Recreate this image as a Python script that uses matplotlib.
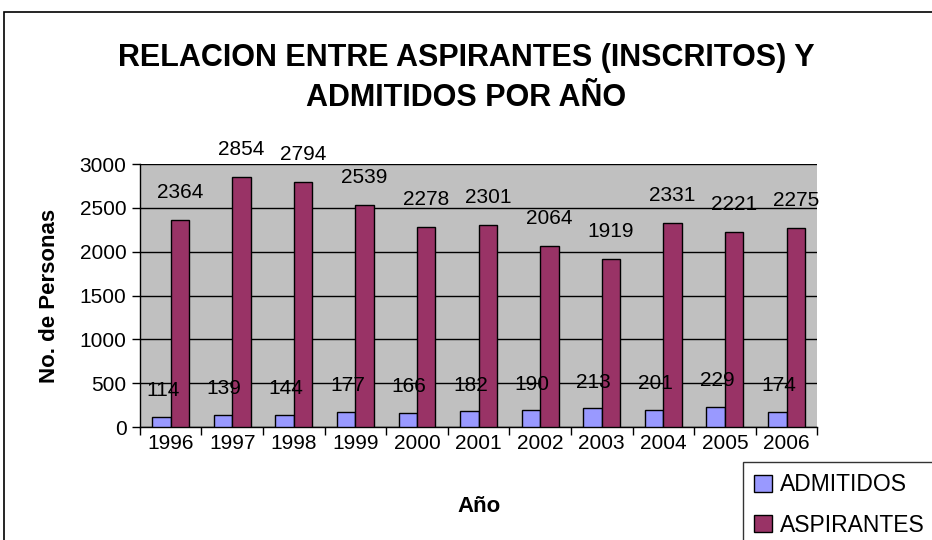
import numpy as np
import matplotlib.pyplot as plt
from matplotlib.patches import Rectangle

plt.rcParams['font.family'] = ['Liberation Sans', 'DejaVu Sans']

# data
years = ['1996', '1997', '1998', '1999', '2000', '2001', '2002', '2003', '2004', '2005', '2006']
admitidos = [114, 139, 144, 177, 166, 182, 190, 213, 201, 229, 174]
aspirantes = [2364, 2854, 2794, 2539, 2278, 2301, 2064, 1919, 2331, 2221, 2275]

fig = plt.figure(figsize=(9.32, 5.40), dpi=100)
ax = fig.add_axes([0.150, 0.209, 0.727, 0.487])

# outer chart border
fig.patches.append(Rectangle((4 / 932, -0.1), 1.2, 1 - 12 / 540 + 0.1,
                             transform=fig.transFigure, fill=False,
                             edgecolor='black', linewidth=1.2))

index = np.arange(len(years))
bar_width = 0.3

ax.set_facecolor('#C0C0C0')
ax.bar(index - bar_width / 2, admitidos, bar_width, color='#9999FF',
       edgecolor='black', linewidth=1, label='ADMITIDOS', zorder=3)
ax.bar(index + bar_width / 2, aspirantes, bar_width, color='#993366',
       edgecolor='black', linewidth=1, label='ASPIRANTES', zorder=3)

for i in index:
    ax.annotate(str(admitidos[i]), (i - bar_width / 2 + 0.02, admitidos[i]),
                xytext=(0, 12), textcoords='offset points',
                ha='center', va='bottom', fontsize=15, zorder=4)
    ax.annotate(str(aspirantes[i]), (i + bar_width / 2, aspirantes[i]),
                xytext=(0, 13), textcoords='offset points',
                ha='center', va='bottom', fontsize=15, zorder=4)

ax.set_xlim(-0.5, len(years) - 0.5)
ax.set_ylim(0, 3000)
ax.set_yticks(range(0, 3001, 500))
ax.yaxis.grid(True, color='black', linewidth=1, zorder=1)
ax.set_xticks(index)
ax.set_xticklabels(years)
ax.set_xticks(np.arange(-0.5, len(years)), minor=True)
ax.tick_params(axis='x', which='major', length=0, labelsize=15, pad=5)
ax.tick_params(axis='x', which='minor', length=6, width=1)
ax.tick_params(axis='y', labelsize=15, length=6, width=1)

for side in ['top', 'right']:
    ax.spines[side].set_visible(False)
ax.spines['left'].set_linewidth(1)
ax.spines['bottom'].set_linewidth(1)

ax.set_ylabel('No. de Personas', fontsize=16, fontweight='bold')
ax.yaxis.set_label_coords(-0.118, 0.5)
ax.set_xlabel('Año', fontsize=16, fontweight='bold')
ax.xaxis.set_label_coords(0.5, -0.30)
ax.xaxis.label.set_va('center')

fig.text(0.5, 1 - 78 / 540, 'RELACION ENTRE ASPIRANTES (INSCRITOS) Y\nADMITIDOS POR AÑO',
         ha='center', va='center', fontsize=22, fontweight='bold', linespacing=1.45)

leg = fig.legend(loc='upper left', bbox_to_anchor=(743 / 932, 1 - 462 / 540),
                 fontsize=16.5, frameon=True, fancybox=False, edgecolor='black',
                 handlelength=0.75, handleheight=0.75, handletextpad=0.35,
                 borderpad=0.5, labelspacing=0.75, borderaxespad=0)
leg.get_frame().set_linewidth(1)
for h in leg.legend_handles:
    h.set_edgecolor('black')
    h.set_linewidth(1)

fig.savefig('out.png', dpi=100)
